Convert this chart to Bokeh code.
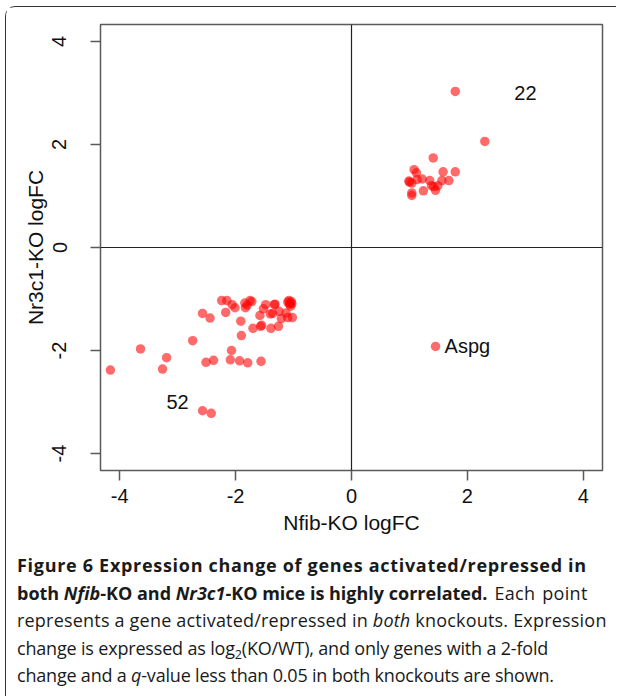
from bokeh.plotting import figure
from bokeh.models import Range1d, FixedTicker, Div, Span
from bokeh.layouts import column
from bokeh.core.properties import value
from bokeh.embed import file_html
from bokeh.resources import INLINE

# ---- data ----
down_x = [-4.16, -3.64, -3.19, -3.26, -2.74, -2.57, -2.44, -2.24, -2.15, -2.06,
          -2.01, -2.17, -1.84, -1.83, -1.75, -1.72, -1.91, -1.90, -2.07, -2.51,
          -2.38, -2.09, -1.93, -1.79, -1.56, -1.70, -1.57, -1.55, -1.39, -1.26,
          -1.58, -1.52, -1.48, -1.33, -1.40, -1.25, -1.21, -1.10, -1.06, -1.03,
          -1.08, -1.05, -1.13, -1.02, -1.10, -2.57, -2.42, -1.80, -1.32, -1.07,
          -1.04, -1.36]
down_y = [-2.38, -1.97, -2.14, -2.36, -1.81, -1.28, -1.37, -1.03, -1.03, -1.11,
          -1.17, -1.26, -1.08, -1.17, -1.03, -1.05, -1.43, -1.71, -2.00, -2.23,
          -2.19, -2.18, -2.20, -2.24, -2.21, -1.57, -1.53, -1.51, -1.57, -1.53,
          -1.32, -1.19, -1.11, -1.11, -1.29, -1.24, -1.38, -1.06, -1.08, -1.09,
          -1.03, -1.14, -1.27, -1.36, -1.36, -3.17, -3.22, -1.12, -1.10, -1.10,
          -1.05, -1.28]
up_x = [1.79, 2.30, 1.41, 1.08, 1.12, 1.58, 1.79, 0.99, 1.04, 1.13, 1.22,
        1.35, 1.38, 1.42, 1.49, 1.56, 1.68, 1.24, 1.45, 1.04, 1.04, 1.00]
up_y = [3.03, 2.06, 1.74, 1.51, 1.45, 1.47, 1.47, 1.29, 1.25, 1.32, 1.33,
        1.30, 1.20, 1.18, 1.20, 1.30, 1.30, 1.10, 1.11, 1.06, 1.01, 1.27]
aspg_x = [1.45]
aspg_y = [-1.92]

count_x = [3.0, -3.0]
count_y = [3.0, -3.0]
count_text = ["22", "52"]
gene_text = ["Aspg"]

ticks = [-4, -2, 0, 2, 4]
tick_labels = {-4: "-4", -2: "-2", 0: "0", 2: "2", 4: "4"}
x_title = "Nfib-KO logFC"
y_title = "Nr3c1-KO logFC"

FONT = "Liberation Sans"
BOX = "#5a5a5a"

p = figure(width=600, height=540, output_backend="svg", toolbar_location=None,
           x_range=Range1d(-4.33, 4.33), y_range=Range1d(-4.33, 4.33),
           min_border_left=94, min_border_right=4, min_border_top=17,
           min_border_bottom=77, background_fill_color="white",
           border_fill_color="white")
p.grid.visible = False
p.outline_line_color = BOX
p.outline_line_width = 1.5

for ax in (p.xaxis[0], p.yaxis[0]):
    ax.ticker = FixedTicker(ticks=ticks)
    ax.major_label_overrides = tick_labels
    ax.axis_line_color = None
    ax.major_tick_line_color = BOX
    ax.major_tick_line_width = 1.5
    ax.major_tick_out = 10
    ax.major_tick_in = 0
    ax.minor_tick_line_color = None
    ax.major_label_text_font = FONT
    ax.major_label_text_font_size = "20px"
    ax.major_label_text_color = "#111111"
    ax.axis_label_text_font = FONT
    ax.axis_label_text_font_size = "21px"
    ax.axis_label_text_font_style = "normal"
    ax.axis_label_text_color = "#111111"

p.xaxis.axis_label = x_title
p.yaxis.axis_label = y_title
p.xaxis.major_label_standoff = 8
p.xaxis.axis_label_standoff = 5
p.yaxis.major_label_orientation = "vertical"
p.yaxis.major_label_standoff = 24
p.yaxis.axis_label_standoff = 3

p.add_layout(Span(location=0, dimension="height", line_color="#222222", line_width=1.2))
p.add_layout(Span(location=0, dimension="width", line_color="#222222", line_width=1.2))

for xs, ys in ((down_x, down_y), (up_x, up_y), (aspg_x, aspg_y)):
    p.scatter(xs, ys, size=9.5, fill_color="red", fill_alpha=0.58, line_color=None)

p.text(count_x, count_y, text=count_text, text_font=value(FONT), text_font_size="20px",
       text_align="center", text_baseline="middle", text_color="#111111")
p.text(aspg_x, aspg_y, text=gene_text, text_font=value(FONT), text_font_size="20px",
       text_align="left", text_baseline="middle", text_color="#111111",
       x_offset=9)

caption = (
    "<span style='letter-spacing:0.7px'><b>Figure 6 Expression change of genes "
    "activated/repressed in</b></span><br>"
    "<b>both <i>Nfib</i>-KO and <i>Nr3c1</i>-KO mice is highly correlated.</b>"
    "<span style='letter-spacing:0.3px;word-spacing:2px'> Each point</span><br>"
    "<span style='letter-spacing:0.2px'>represents a gene activated/repressed in "
    "<i>both</i> knockouts. Expression</span><br>"
    "<span style='letter-spacing:-0.18px'>change is expressed as log"
    "<span style='font-size:0.7em;vertical-align:-0.3em;line-height:0'>2</span>"
    "(KO/WT), and only genes with a 2-fold</span><br>"
    "<span style='letter-spacing:-0.2px'>change and a <i>q</i>-value less than 0.05 "
    "in both knockouts are shown.</span>"
)
div = Div(text=caption, width=600, height=142,
          styles={"font-family": "Open Sans", "font-size": "18px", "line-height": "27.5px",
                  "white-space": "nowrap", "color": "#1a1a1a", "padding-left": "6px"})

layout = column(p, div, spacing=0,
                styles={"border-left": "1.5px solid #333333",
                        "border-top": "1.5px solid #333333",
                        "border-top-left-radius": "10px",
                        "margin-left": "5px", "margin-top": "6px"})

open("out.html", "w").write(file_html(layout, INLINE))
